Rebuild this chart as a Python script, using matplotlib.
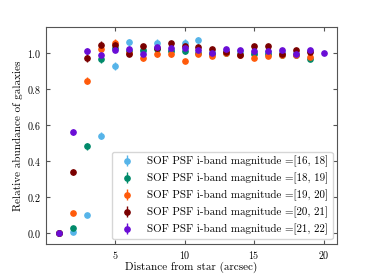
import numpy as np
import matplotlib
matplotlib.use("Agg")
import matplotlib.pyplot as plt

plt.rcParams['font.family'] = 'serif'
plt.rcParams['font.serif'] = ['cmr10']
plt.rcParams['mathtext.fontset'] = 'cm'
plt.rcParams['axes.formatter.use_mathtext'] = True
plt.rcParams['axes.unicode_minus'] = False

distance = np.arange(1, 21)

# relative abundance per magnitude bin (x = 1..20 arcsec)
abund_16_18 = [0.0, 0.005, 0.098, 0.540, 0.927, 1.058, 1.010, 1.055, 1.015, 1.055,
               1.069, 1.005, 1.010, 1.010, 1.000, 1.005, 1.005, 1.000, 1.010, np.nan]
abund_18_19 = [0.0, 0.031, 0.482, 0.967, 1.027, 1.010, 1.014, 1.020, 1.009, 1.009,
               1.000, 0.995, 1.000, 0.995, 0.991, 0.995, 0.990, 0.990, 0.967, np.nan]
abund_19_20 = [0.0, 0.110, 0.845, 1.023, 1.055, 1.000, 0.969, 0.991, 0.991, 0.954,
               0.996, 0.982, 1.000, 0.990, 0.969, 0.982, 0.985, 0.989, 0.978, np.nan]
abund_20_21 = [0.0, 0.338, 0.973, 1.045, 1.045, 0.996, 1.040, 1.024, 1.055, 1.040,
               1.033, 1.023, 1.004, 0.989, 1.036, 1.036, 0.996, 1.014, 1.005, np.nan]
abund_21_22 = [0.0, 0.562, 1.009, 0.989, 1.014, 1.023, 0.996, 1.033, 1.027, 1.027,
               1.014, 1.000, 1.023, 1.018, 1.009, 1.009, 1.018, 0.996, 1.018, 1.000]

err_16_18 = [0.005, 0.008, 0.010, 0.018, 0.020, 0.020, 0.020, 0.020, 0.020, 0.020,
             0.020, 0.015, 0.015, 0.015, 0.015, 0.015, 0.015, 0.015, 0.015, np.nan]
err_18_19 = [0.005, 0.008, 0.020, 0.025, 0.020, 0.015, 0.015, 0.015, 0.015, 0.015,
             0.012, 0.012, 0.012, 0.012, 0.012, 0.012, 0.012, 0.012, 0.012, np.nan]
err_19_20 = [0.005, 0.008, 0.020, 0.020, 0.020, 0.012, 0.012, 0.012, 0.012, 0.010,
             0.010, 0.010, 0.010, 0.010, 0.010, 0.010, 0.010, 0.010, 0.010, np.nan]
err_20_21 = [0.005, 0.015, 0.025, 0.020, 0.015, 0.012, 0.010, 0.010, 0.010, 0.010,
             0.008, 0.008, 0.008, 0.008, 0.008, 0.008, 0.008, 0.008, 0.008, np.nan]
err_21_22 = [0.005, 0.018, 0.020, 0.015, 0.012, 0.010, 0.008, 0.008, 0.008, 0.008,
             0.008, 0.008, 0.008, 0.008, 0.008, 0.008, 0.008, 0.008, 0.008, 0.006]

labels = ['SOF PSF i-band magnitude =[16, 18]',
          'SOF PSF i-band magnitude =[18, 19]',
          'SOF PSF i-band magnitude =[19, 20]',
          'SOF PSF i-band magnitude =[20, 21]',
          'SOF PSF i-band magnitude =[21, 22]']
colors = ['#56B4E9', '#008A6A', '#FF5A0A', '#7A0000', '#6A0DD6']

series = [abund_16_18, abund_18_19, abund_19_20, abund_20_21, abund_21_22]
errors = [err_16_18, err_18_19, err_19_20, err_20_21, err_21_22]

fig = plt.figure(figsize=(3.74, 2.8), dpi=100)
ax = fig.add_axes([0.123, 0.129, 0.778, 0.775])

for y, e, lab, c in zip(series, errors, labels, colors):
    ax.errorbar(distance, y, yerr=e, fmt='o', color=c, ms=3.8,
                elinewidth=1.0, label=lab)

ax.set_xticks([5, 10, 15, 20])
ax.set_yticks([0.0, 0.2, 0.4, 0.6, 0.8, 1.0])
ax.tick_params(direction='in', top=True, right=True, labelsize=7.2, length=3,
               color='#555555')
for s in ax.spines.values():
    s.set_color('#555555')
ax.set_xlabel('Distance from star (arcsec)', fontsize=8, labelpad=1)
ax.set_ylabel('Relative abundance of galaxies', fontsize=8, labelpad=3)
ax.legend(loc='lower right', fontsize=7.9, frameon=True, handletextpad=0.8,
          borderaxespad=0.4)

fig.savefig('out.png', dpi=100)
